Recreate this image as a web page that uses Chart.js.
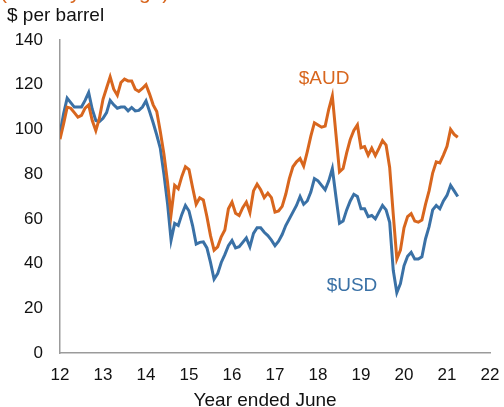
<!DOCTYPE html>
<html lang="en">
<head>
<meta charset="UTF-8">
<title>Oil price</title>
<script src="https://cdn.jsdelivr.net/npm/chart.js"></script>
<style>
  html, body { margin: 0; padding: 0; background: #fff; }
</style>
</head>
<body>
<canvas id="oilChart" width="504" height="407"></canvas>
<script>
// monthly values, first point = start of year ended June 2012
const firstYear = 12;
const xTicks = [12, 13, 14, 15, 16, 17, 18, 19, 20, 21, 22];
const yTicks = [0, 20, 40, 60, 80, 100, 120, 140];

const audPrice = [
  95.6, 102.5, 110, 109.5, 107.5, 105.5, 106.3, 109.5, 111, 104,
  99.5, 105, 113.5, 118.5, 123.5, 118, 115.3, 121, 122.5, 121.7,
  121.7, 118, 117, 118.3, 120, 115.8, 111, 108, 99, 89,
  76.5, 62, 75, 73.5, 79, 83.3, 82, 74, 66.5, 69.4,
  68.5, 61, 52.5, 46, 47.5, 52, 55, 64.5, 67.5, 62.5,
  61.5, 65, 67.5, 62.8, 72.5, 75.5, 73, 69.5, 71.5, 69.5,
  63, 63.5, 65.6, 71, 78, 83.3, 85.5, 87, 83.6, 90,
  97, 103, 102, 101, 101.5, 109, 115, 98, 81, 82.5,
  89.5, 95.5, 99.5, 102, 91.8, 92.3, 88.5, 91.6, 88.3, 91.5,
  95, 93, 83, 62, 42, 46, 56, 61, 62.3, 59,
  58.5, 59.5, 66.5, 72.5, 80.5, 85.5, 85, 88.5, 92.5, 100,
  97.8, 96.5
];

const usdPrice = [
  98, 107, 114, 112, 110, 110, 110, 113, 116.5, 109,
  104, 103.5, 105, 107.5, 113, 111, 109.5, 110, 110, 108.3,
  109.8, 108.3, 108.5, 110, 112.8, 108, 103, 97.5, 91.5, 80,
  67, 50.5, 58, 57, 62, 66, 63.5, 57, 48.7, 49.5,
  49.7, 47, 40.5, 33, 35.5, 40.5, 44, 48, 50.3, 47,
  47.5, 49.5, 51.5, 47.5, 53.5, 56, 56, 54, 52.5, 50.5,
  48, 50, 53, 57, 60, 63, 66, 70, 66.5, 68,
  72, 78, 77, 75, 73, 77, 82.5, 70, 58, 59,
  64, 68, 71, 70, 64.5, 64.5, 61, 61.5, 60, 63,
  66, 64, 58.5, 37, 27, 31, 39, 43.3, 45, 42,
  42, 43, 51, 56.5, 64, 66, 64.5, 68, 70.5, 75,
  72.5, 70
];

const audColor = '#d8661e';
const usdColor = '#3a71a6';
const axisColor = '#9b9b9b';
const textColor = '#111111';
const fontFamily = '"Liberation Sans", Arial, sans-serif';

function toPoints(values) {
  return values.map((v, i) => ({ x: firstYear + i / 12, y: v }));
}

// series names, axis title and header text drawn on top of the plot
const notes = {
  id: 'notes',
  afterDraw(chart) {
    const ctx = chart.ctx;
    const xs = chart.scales.x;
    const ys = chart.scales.y;
    ctx.save();
    ctx.textAlign = 'center';
    ctx.textBaseline = 'middle';
    ctx.font = '19px ' + fontFamily;
    ctx.fillStyle = audColor;
    ctx.fillText('$AUD', xs.getPixelForValue(18.14), ys.getPixelForValue(122.5));
    ctx.fillStyle = usdColor;
    ctx.fillText('$USD', xs.getPixelForValue(18.79), ys.getPixelForValue(30));

    ctx.textBaseline = 'alphabetic';
    ctx.fillStyle = textColor;
    ctx.fillText('Year ended June', xs.getPixelForValue(16.77), 406);

    ctx.textAlign = 'left';
    ctx.fillStyle = audColor;
    ctx.font = '21px ' + fontFamily;
    ctx.fillText('(monthly average)', 0, -1.5);
    ctx.fillStyle = textColor;
    ctx.font = '19px ' + fontFamily;
    ctx.fillText('$ per barrel', 7, 21);
    ctx.restore();
  }
};

const ctx = document.getElementById('oilChart').getContext('2d');
new Chart(ctx, {
  type: 'line',
  data: {
    datasets: [
      {
        label: '$AUD',
        data: toPoints(audPrice),
        borderColor: audColor,
        borderWidth: 3,
        pointRadius: 0,
        tension: 0
      },
      {
        label: '$USD',
        data: toPoints(usdPrice),
        borderColor: usdColor,
        borderWidth: 3,
        pointRadius: 0,
        tension: 0
      }
    ]
  },
  options: {
    responsive: false,
    animation: false,
    devicePixelRatio: 1,
    layout: { padding: { left: 0, right: 14, top: 40, bottom: 0 } },
    plugins: {
      legend: { display: false },
      tooltip: { enabled: false }
    },
    scales: {
      x: {
        type: 'linear',
        min: 12,
        max: 22,
        afterBuildTicks: (scale) => {
          scale.ticks = xTicks.map((v) => ({ value: v }));
        },
        afterFit: (scale) => {
          scale.height = 54;
          // labels at the ends may hang over the plot edges
          scale.paddingLeft = 0;
          scale.paddingRight = 0;
        },
        grid: { display: false, drawTicks: false },
        border: { display: true, color: axisColor, width: 1.5 },
        ticks: {
          color: textColor,
          font: { family: fontFamily, size: 17 },
          padding: 12,
          maxRotation: 0,
          autoSkip: false
        }
      },
      y: {
        min: 0,
        max: 140,
        afterBuildTicks: (scale) => {
          scale.ticks = yTicks.map((v) => ({ value: v }));
        },
        afterFit: (scale) => { scale.width = 60; },
        grid: { display: false, drawTicks: false },
        border: { display: true, color: axisColor, width: 1.5 },
        ticks: {
          color: textColor,
          font: { family: fontFamily, size: 17 },
          padding: 17
        }
      }
    }
  },
  plugins: [notes]
});
</script>
</body>
</html>
